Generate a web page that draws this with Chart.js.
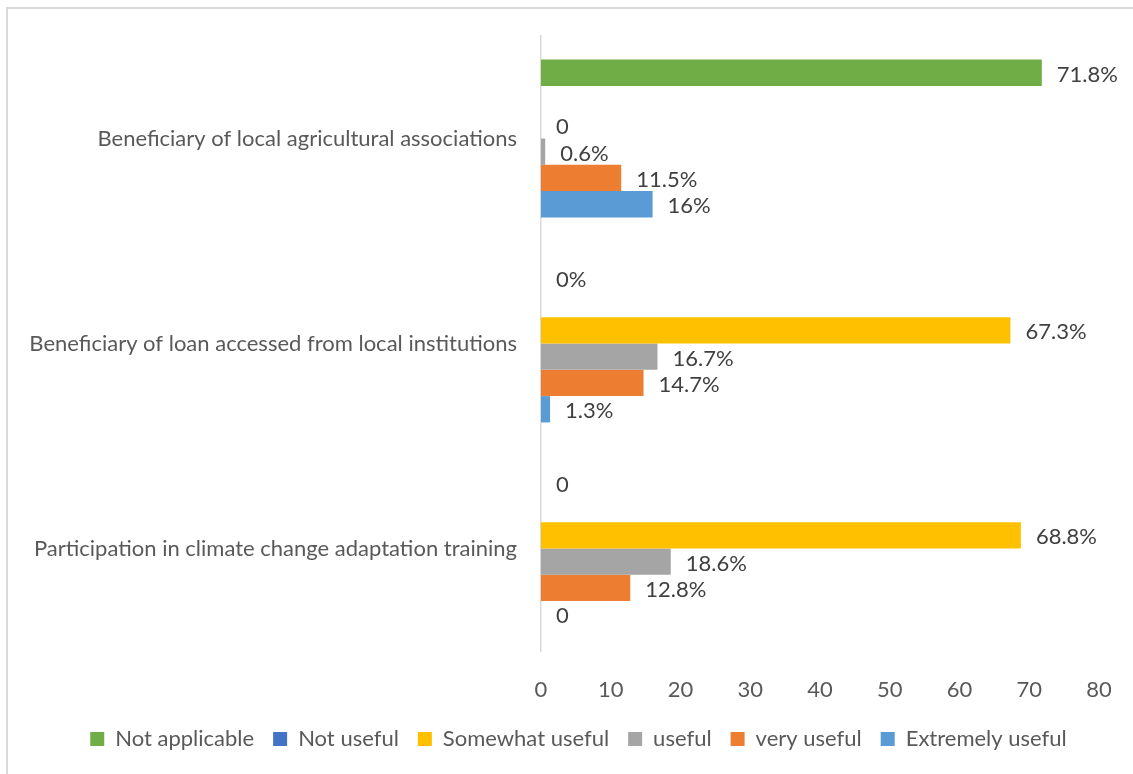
<!DOCTYPE html>
<html>
<head>
<meta charset="utf-8">
<title>Usefulness of services</title>
<script src="https://cdn.jsdelivr.net/npm/chart.js@4.4.1/dist/chart.umd.min.js"></script>
<style>
  html, body { margin: 0; padding: 0; background: #fff; overflow: hidden; }
  #frame {
    position: absolute; left: 6px; top: 7px; width: 1127px; height: 767px;
    border-left: 2px solid #d9d9d9; border-top: 2px solid #d9d9d9;
  }
  #wrap { position: absolute; left: 0; top: 0; width: 1133px; height: 774px; }
</style>
</head>
<body>
<div id="frame"></div>
<div id="wrap"><canvas id="usefulChart"></canvas></div>
<script>
  const categories = [
    "Beneficiary of local agricultural associations",
    "Beneficiary of loan accessed from local institutions",
    "Participation in climate change adaptation training"
  ];

  // null = no bar and no label
  const notApplicable = [71.8, 0, 0];
  const notApplicableUnit = ["%", "%", ""];
  const notUseful = [null, null, null];
  const notUsefulUnit = ["", "", ""];
  const somewhatUseful = [0, 67.3, 68.8];
  const somewhatUsefulUnit = ["", "%", "%"];
  const useful = [0.6, 16.7, 18.6];
  const usefulUnit = ["%", "%", "%"];
  const veryUseful = [11.5, 14.7, 12.8];
  const veryUsefulUnit = ["%", "%", "%"];
  const extremelyUseful = [16, 1.3, 0];
  const extremelyUsefulUnit = ["%", "%", ""];

  const xTicks = [0, 10, 20, 30, 40, 50, 60, 70, 80];

  const FONT = "Lato";
  const FONT_SIZE = 22;
  const TEXT = "#595959";

  const series = [
    { label: "Not applicable", data: notApplicable, units: notApplicableUnit, color: "#70AD47" },
    { label: "Not useful", data: notUseful, units: notUsefulUnit, color: "#4472C4" },
    { label: "Somewhat useful", data: somewhatUseful, units: somewhatUsefulUnit, color: "#FFC000" },
    { label: "useful", data: useful, units: usefulUnit, color: "#A5A5A5" },
    { label: "very useful", data: veryUseful, units: veryUsefulUnit, color: "#ED7D31" },
    { label: "Extremely useful", data: extremelyUseful, units: extremelyUsefulUnit, color: "#5B9BD5" }
  ];

  // value labels just past the end of each bar
  const valueLabels = {
    id: 'valueLabels',
    afterDatasetsDraw(chart) {
      const { ctx } = chart;
      ctx.save();
      ctx.font = `${FONT_SIZE}px ${FONT}`;
      ctx.fillStyle = "#404040";
      ctx.textAlign = "left";
      ctx.textBaseline = "middle";
      chart.data.datasets.forEach((ds, i) => {
        const meta = chart.getDatasetMeta(i);
        meta.data.forEach((bar, j) => {
          const v = ds.data[j];
          if (v === null || v === undefined) return;
          ctx.fillText(v + ds.units[j], bar.x + 15, bar.y + 2);
        });
      });
      ctx.restore();
    }
  };

  // centre the legend on the whole canvas instead of the padded box
  const legendShift = {
    id: 'legendShift',
    afterLayout(chart) {
      const lg = chart.legend;
      if (!lg) return;
      const dx = chart.width / 2 - (lg.left + lg.right) / 2 + 12;
      lg.left += dx;
      lg.right += dx;
    }
  };

  new Chart(document.getElementById("usefulChart"), {
    type: 'bar',
    data: {
      labels: categories,
      datasets: series.map(s => ({
        label: s.label,
        data: s.data,
        units: s.units,
        backgroundColor: s.color,
        borderWidth: 0,
        barPercentage: 1,
        categoryPercentage: 0.77
      }))
    },
    options: {
      indexAxis: 'y',
      responsive: true,
      maintainAspectRatio: false,
      animation: false,
      layout: { padding: { top: 36, right: 34, left: 0, bottom: 14 } },
      scales: {
        x: {
          min: xTicks[0],
          max: xTicks[xTicks.length - 1],
          afterBuildTicks: (scale) => { scale.ticks = xTicks.map(v => ({ value: v })); },
          afterFit: (scale) => { scale.height = 58; },
          ticks: { color: TEXT, font: { family: FONT, size: FONT_SIZE }, padding: 18 },
          grid: { display: false },
          border: { display: false }
        },
        y: {
          afterFit: (scale) => { scale.width = 541; },
          ticks: { color: TEXT, font: { family: FONT, size: FONT_SIZE }, padding: 16 },
          grid: { display: false },
          border: { display: true, color: "#d9d9d9", width: 1.5 }
        }
      },
      plugins: {
        legend: {
          position: 'bottom',
          labels: {
            color: TEXT,
            font: { family: FONT, size: FONT_SIZE },
            boxWidth: 14,
            boxHeight: 14,
            padding: 19
          }
        },
        tooltip: { enabled: false }
      }
    },
    plugins: [valueLabels, legendShift]
  });
</script>
</body>
</html>
